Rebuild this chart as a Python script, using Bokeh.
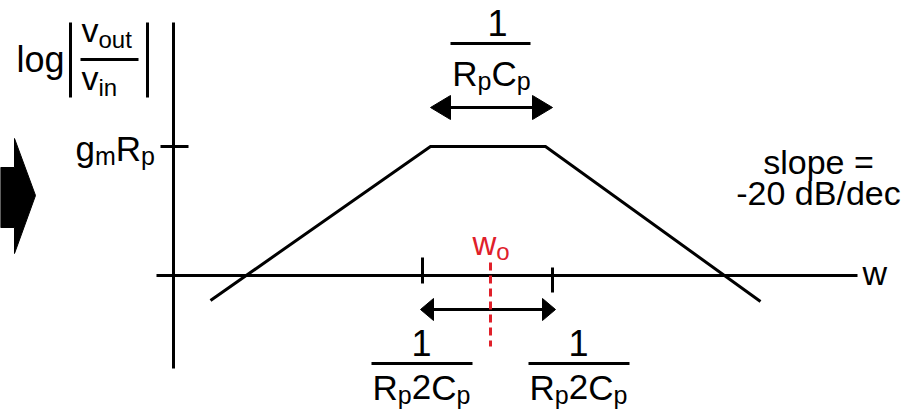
from bokeh.plotting import figure
from bokeh.models import Range1d, ColumnDataSource
from bokeh.core.properties import value
from bokeh.embed import file_html
from bokeh.resources import INLINE

# --- Bode-plot sketch of a band-pass stage ---------------------------------
# Coordinates: x = position along the log(w) axis, y = position on the
# log|vout/vin| axis (drawn top-down).
bode_logw = [210, 430, 545, 760]          # asymptote break points
bode_gain = [300, 146, 146, 301]
gain_level = 146                          # g_m R_p plateau
zero_gain = 275                           # w axis
pole_marks = [422, 552]                   # 1/(Rp 2Cp) markers
w_center = 490                            # w_o
plateau_span = [430, 552]                 # 1/(Rp Cp) arrow
pole_span = [420, 555]                    # arrow between the markers

slope_lines = ["slope =", "-20 dB/dec"]

FONT = "Liberation Sans"
BLACK = "#000000"
RED = "#e0202a"
RAISE = 0.3   # baseline correction, fraction of the font size

# Arial-compatible advance widths (em) for composing sub-scripted labels
ADV = {"g": .556, "m": .833, "R": .722, "p": .556, "C": .722, "2": .556,
       "1": .556, "l": .222, "o": .556, "v": .5, "u": .556, "t": .278,
       "i": .222, "n": .556, "w": .722}

p = figure(width=907, height=413, x_range=Range1d(0, 907), y_range=Range1d(413, 0),
           x_axis_type=None, y_axis_type=None, output_backend="svg",
           toolbar_location=None, min_border=0)
p.grid.visible = False
p.outline_line_color = None
p.background_fill_color = "white"
p.border_fill_color = "white"

txt = dict(x=[], y=[], text=[], size=[], color=[])


def run_width(segs):
    return sum(ADV[c] * s for t, s, _ in segs for c in t)


def put_run(x, y, segs, color=BLACK, center=False):
    if center:
        x -= run_width(segs) / 2
    for t, s, dy in segs:
        txt["x"].append(x)
        txt["y"].append(y + dy - RAISE * s)
        txt["text"].append(t)
        txt["size"].append(f"{s}px")
        txt["color"].append(color)
        x += sum(ADV[c] * s for c in t)


def hline(x0, x1, y, w=3, color=BLACK, dash="solid"):
    p.line([x0, x1], [y, y], line_width=w, line_color=color, line_dash=dash)


def vline(x, y0, y1, w=3, color=BLACK, dash="solid"):
    p.line([x, x], [y0, y1], line_width=w, line_color=color, line_dash=dash)


def double_arrow(x0, x1, y, length, half):
    hline(x0 + length * 0.5, x1 - length * 0.5, y, w=3)
    p.patches([[x0, x0 + length, x0 + length], [x1, x1 - length, x1 - length]],
              [[y, y - half, y + half], [y, y - half, y + half]],
              fill_color=BLACK, line_color=BLACK, line_width=1)


MAIN, SUB, OFF = 35, 25, 5

# big block arrow on the left
p.patch([0, 14, 14, 35, 14, 14, 0], [167, 167, 138, 195, 253, 227, 227],
        fill_color="black", line_color="black")

# axes
vline(173, 22, 368)
hline(156, 857, zero_gain)
put_run(862, 283, [("w", 34, 0)])

# y-axis title: log | vout / vin |
put_run(16, 70, [("log", 36, 0)])
vline(70, 22, 97)
vline(147, 22, 97)
hline(80, 138, 59, w=3)
put_run(81, 40, [("v", 34, 0), ("out", 24, 6)])
put_run(81, 88, [("v", 34, 0), ("in", 24, 6)])

# plateau tick and label
hline(160, 188, gain_level)
put_run(75, 158, [("g", MAIN, 0), ("m", SUB, OFF), ("R", MAIN, 0), ("p", SUB, OFF)])

# asymptotic magnitude response
p.line(bode_logw, bode_gain, line_width=3, line_color=BLACK, line_join="miter")

# 1/(Rp Cp) fraction with arrow over the plateau
put_run(497, 33, [("1", 36, 0)], center=True)
hline(450, 530, 43)
put_run(491, 83, [("R", MAIN, 0), ("p", SUB, OFF), ("C", MAIN, 0), ("p", SUB, OFF)],
        center=True)
double_arrow(plateau_span[0], plateau_span[1], 107, 20, 12)

# pole markers on the w axis
vline(pole_marks[0], 257, 283)
vline(pole_marks[1], 267, 292)
double_arrow(pole_span[0], pole_span[1], 309, 13, 11)

# centre frequency
vline(w_center, 262, 346, w=3, color=RED, dash="8 5")
put_run(472, 253, [("w", 33, 0), ("o", 24, 5)], color=RED)

# 1/(Rp 2Cp) fractions below the axis
for cx in (421, 578):
    put_run(cx, 353, [("1", 36, 0)], center=True)
    hline(cx - 50, cx + 51, 363)
    put_run(cx, 397, [("R", MAIN, 0), ("p", SUB, OFF), ("2", MAIN, 0),
                      ("C", MAIN, 0), ("p", SUB, OFF)], center=True)

p.text(x="x", y="y", text="text", source=ColumnDataSource(txt),
       text_font=value(FONT), text_font_size="size", text_color="color",
       text_align="left", text_baseline="alphabetic")

# roll-off annotation
p.text(x=[818, 818], y=[172 - RAISE * 34, 203 - RAISE * 34], text=slope_lines,
       text_font=value(FONT), text_font_size="34px", text_color=BLACK,
       text_align="center", text_baseline="alphabetic")

open("out.html", "w").write(file_html(p, INLINE))
